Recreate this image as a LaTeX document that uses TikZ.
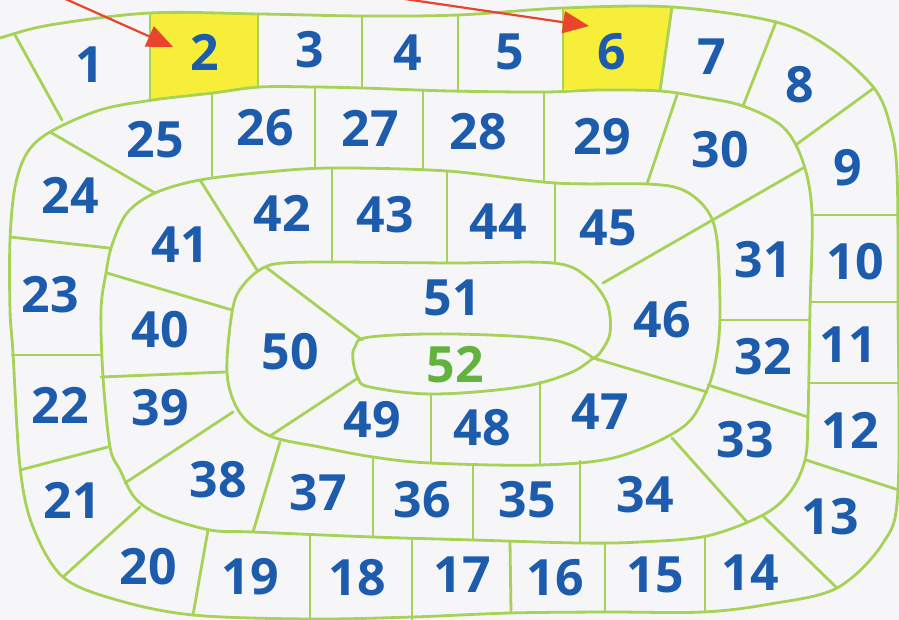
\documentclass[tikz,border=0pt]{standalone}
\usepackage{fontspec}
\setmainfont{Open Sans}
\usetikzlibrary{arrows.meta}
\definecolor{bgc}{HTML}{F6F6F8}
\definecolor{lineg}{HTML}{A6D257}
\definecolor{numb}{HTML}{1D5BAD}
\definecolor{numg}{HTML}{62B33E}
\definecolor{yel}{HTML}{F7EE3A}
\definecolor{arr}{HTML}{E8452C}
\tikzset{
  trackline/.style={draw=lineg, line width=2.8pt, line join=round, line cap=round},
  num/.style={text=numb, font=\fontsize{50}{50}\selectfont\bfseries, inner sep=0pt},
  pointer/.style={draw=arr, line width=2.2pt, -{Triangle[length=26pt,width=22pt]}},
}
\begin{document}
\begin{tikzpicture}[x=1pt,y=-1pt]
\useasboundingbox (0,0) rectangle (899,620);
\clip (0,0) rectangle (899,620);
\fill[bgc] (0,0) rectangle (899,620);
% yellow cells
\fill[yel] plot[smooth] coordinates {(150,13.5) (205,13) (258,14.5)} -- (258,87) -- plot[smooth] coordinates {(258,87) (213,93) (150,100)} -- cycle;
\fill[yel] plot[smooth] coordinates {(563,8) (620,7) (672,7)} -- (660,91) -- plot[smooth] coordinates {(660,91) (610,90) (563,89)} -- cycle;
% spiral line
\draw[trackline] plot[smooth, tension=0.55] coordinates {
 (-10,42) (0,38) (50,25) (150,13) (260,14) (362,16) (458,15) (563,8) (672,7) (776,22) (830,48) (874,88) (890,125) (897,173)
 (898,300) (898,490) (883,543) (837,588) (770,604) (703,612) (605,612) (510,613) (412,617) (310,619) (193,615) (117,600) (63,577) (33,527) (20,467) (13,353) (10,310) (10,240) (15,187) (27,153) (50,132)
 (100,110) (153,100) (213,93) (260,87) (315,87) (362,88) (450,91) (544,92) (600,90) (660,91) (700,97) (743,106) (783,127) (803,162) (812,213) (810,310) (808,417) (805,460) (790,492) (763,515) (707,536) (640,542) (580,543) (473,540) (373,537) (253,532) (210,530) (160,515) (135,498) (120,470) (110,447) (103,377) (101,310) (106,273) (112,245) (127,213) (155,193)
 (200,180) (267,172) (333,168) (447,171) (555,183) (647,184) (683,190) (707,210) (717,240) (720,310) (717,353) (707,390) (683,427) (617,457) (540,465) (430,463) (373,457) (320,447) (270,436) (240,413) (227,373) (233,307)
 (245,283) (263,268) (283,263) (333,262) (450,263) (553,263) (587,277) (607,303) (610,333) (600,353) (593,358)};
% center oval
\draw[trackline] plot[smooth, tension=0.6] coordinates {(593,358) (553,340) (453,334) (370,337) (355,347) (353,360) (358,378) (370,387) (433,394) (520,387) (570,373) (593,358)};
% dividers
\foreach \a/\b in {
 {(15,35)}/{(62,120)}, {(150,13)}/{(150,99)}, {(258,14)}/{(258,87)}, {(362,16)}/{(362,88)},
 {(458,15)}/{(458,91)}, {(563,8)}/{(563,89)}, {(672,7)}/{(660,91)}, {(776,22)}/{(743,106)},
 {(874,88)}/{(797,144)}, {(812,215)}/{(905,215)}, {(810,302)}/{(905,302)}, {(810,383)}/{(905,383)},
 {(806,460)}/{(905,492)}, {(762,515)}/{(837,588)}, {(705,537)}/{(705,612)}, {(605,543)}/{(605,612)},
 {(510,542)}/{(511,613)}, {(412,539)}/{(412,620)}, {(310,536)}/{(310,622)}, {(208,530)}/{(193,615)},
 {(140,507)}/{(63,577)}, {(108,447)}/{(20,470)}, {(101,355)}/{(12,355)}, {(109,248)}/{(10,237)},
 {(50,132)}/{(155,193)},
 {(212,94)}/{(212,176)}, {(315,87)}/{(315,169)}, {(423,90)}/{(423,170)}, {(544,92)}/{(544,182)},
 {(677,95)}/{(647,184)}, {(803,168)}/{(603,283)}, {(720,320)}/{(809,320)}, {(708,385)}/{(808,417)},
 {(672,438)}/{(747,522)}, {(580,461)}/{(580,543)}, {(473,465)}/{(473,540)}, {(373,457)}/{(373,537)},
 {(280,442)}/{(253,532)}, {(233,412)}/{(125,483)}, {(225,372)}/{(101,377)}, {(107,273)}/{(232,310)},
 {(200,180)}/{(257,270)},
 {(332,168)}/{(332,262)}, {(447,171)}/{(447,263)}, {(555,183)}/{(555,263)}, {(593,358)}/{(707,392)},
 {(540,382)}/{(540,465)}, {(431,394)}/{(431,462)}, {(358,378)}/{(270,436)}, {(267,268)}/{(362,340)}}
 {\draw[trackline] \a -- \b;}
% arrows
\coordinate (a1s) at (61,-3);
\coordinate (a1e) at (173,47);
\coordinate (a2s) at (398,-2);
\coordinate (a2e) at (589,26);
\draw[pointer] (a1s) -- (a1e);
\draw[pointer] (a2s) -- (a2e);
% numbers
\foreach \n/\x/\y in {1/90/65, 2/205/52, 3/310/50, 4/408/53, 5/510/52, 6/612/52, 7/712/57, 8/800/85,
 9/848/168, 10/855/262, 11/848/345, 12/850/430, 13/830/517, 14/750/573, 15/655/575, 16/555/578,
 17/462/575, 18/357/578, 19/250/577, 20/148/567, 21/72/500, 22/60/405, 23/50/295, 24/70/195,
 25/155/140, 26/265/128, 27/370/128, 28/478/132, 29/602/137, 30/720/150, 31/763/260, 32/763/357,
 33/745/440, 34/645/495, 35/527/500, 36/422/500, 37/318/493, 38/218/480, 39/160/408, 40/160/330,
 41/180/245, 42/282/213, 43/385/215, 44/498/222, 45/608/228, 46/662/320, 47/600/412, 48/482/428,
 49/372/420, 50/290/352, 51/452/298}
 {\node[num] (n\n) at (\x,\y) {\n};}
\node[num, text=numg] (n52) at (455,365) {52};
\end{tikzpicture}
\end{document}
